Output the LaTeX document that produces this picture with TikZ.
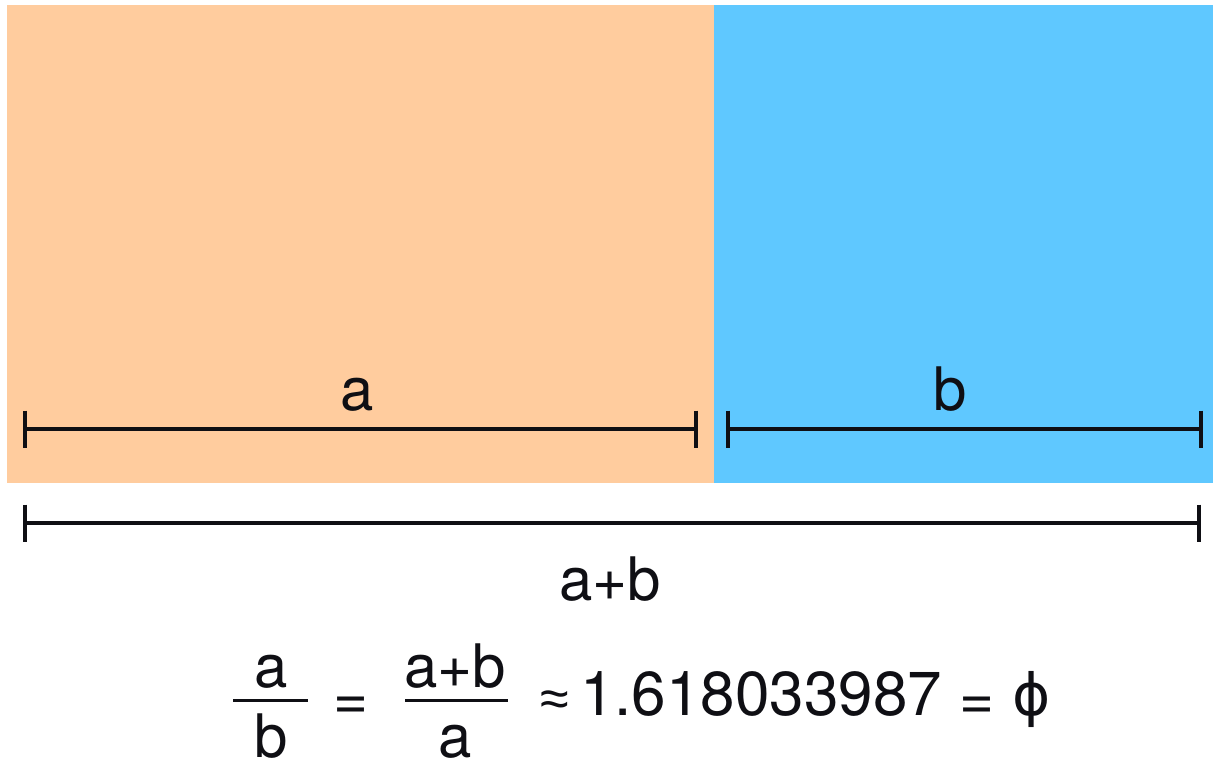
\documentclass[tikz,border=0pt]{standalone}
\usepackage{fontspec}
\setmainfont{TeX Gyre Heros}
\newfontfamily\symfont{Liberation Sans}
\newfontfamily\phifont{DejaVu Sans}
\definecolor{peach}{RGB}{255,204,158}
\definecolor{sky}{RGB}{95,200,255}
\definecolor{ink}{RGB}{15,15,20}
\begin{document}
\begin{tikzpicture}[x=1pt,y=-1pt,
  lbl/.style={inner sep=0pt,anchor=base,text=ink,font=\fontsize{60}{72}\selectfont},
  dimline/.style={draw=ink,line width=3.5pt},
  tickmark/.style={draw=ink,line width=4pt},
  fracbar/.style={draw=ink,line width=3pt}]
\useasboundingbox[fill=white] (0,0) rectangle (1213,763);
\fill[peach] (7,5) rectangle (714,483);
\fill[sky] (714,5) rectangle (1213,483);
% dimension line end points
\coordinate (aL) at (25,429);
\coordinate (aR) at (696,429);
\coordinate (bL) at (728,429);
\coordinate (bR) at (1201,429);
\coordinate (abL) at (25,523);
\coordinate (abR) at (1199,523);
\draw[dimline] (aL) -- (aR);
\draw[dimline] (bL) -- (bR);
\draw[dimline] (abL) -- (abR);
\foreach \p in {aL,aR,bL,bR,abL,abR}{
  \draw[tickmark] ([yshift=18.5pt]\p) -- ([yshift=-18.5pt]\p);
}
% labels
\node[lbl] (la) at (357,410) {a};
\node[lbl] (lb) at (950,410) {b};
\node[lbl] (lab) at (610,600) {a+b};
% formula
\node[lbl] (n1) at (271,687) {a};
\node[lbl] (d1) at (271,757) {b};
\coordinate (f1L) at (233,700);
\coordinate (f1R) at (308,700);
\draw[fracbar] (f1L) -- (f1R);
\node[lbl] (eq1) at (351,719) {=};
\node[lbl] (n2) at (455,687) {a+b};
\node[lbl] (d2) at (455,757) {a};
\coordinate (f2L) at (405,700);
\coordinate (f2R) at (508,700);
\draw[fracbar] (f2L) -- (f2R);
\node[lbl,font=\fontsize{52}{72}\symfont] (approx) at (555,716) {≈};
\node[lbl,font=\fontsize{62}{72}\selectfont] (num) at (761,715) {1.618033987};
\node[lbl] (eq2) at (977,719) {=};
\node[lbl,font=\fontsize{58}{72}\phifont] (phi) at (1032,715) {ϕ};
\end{tikzpicture}
\end{document}
